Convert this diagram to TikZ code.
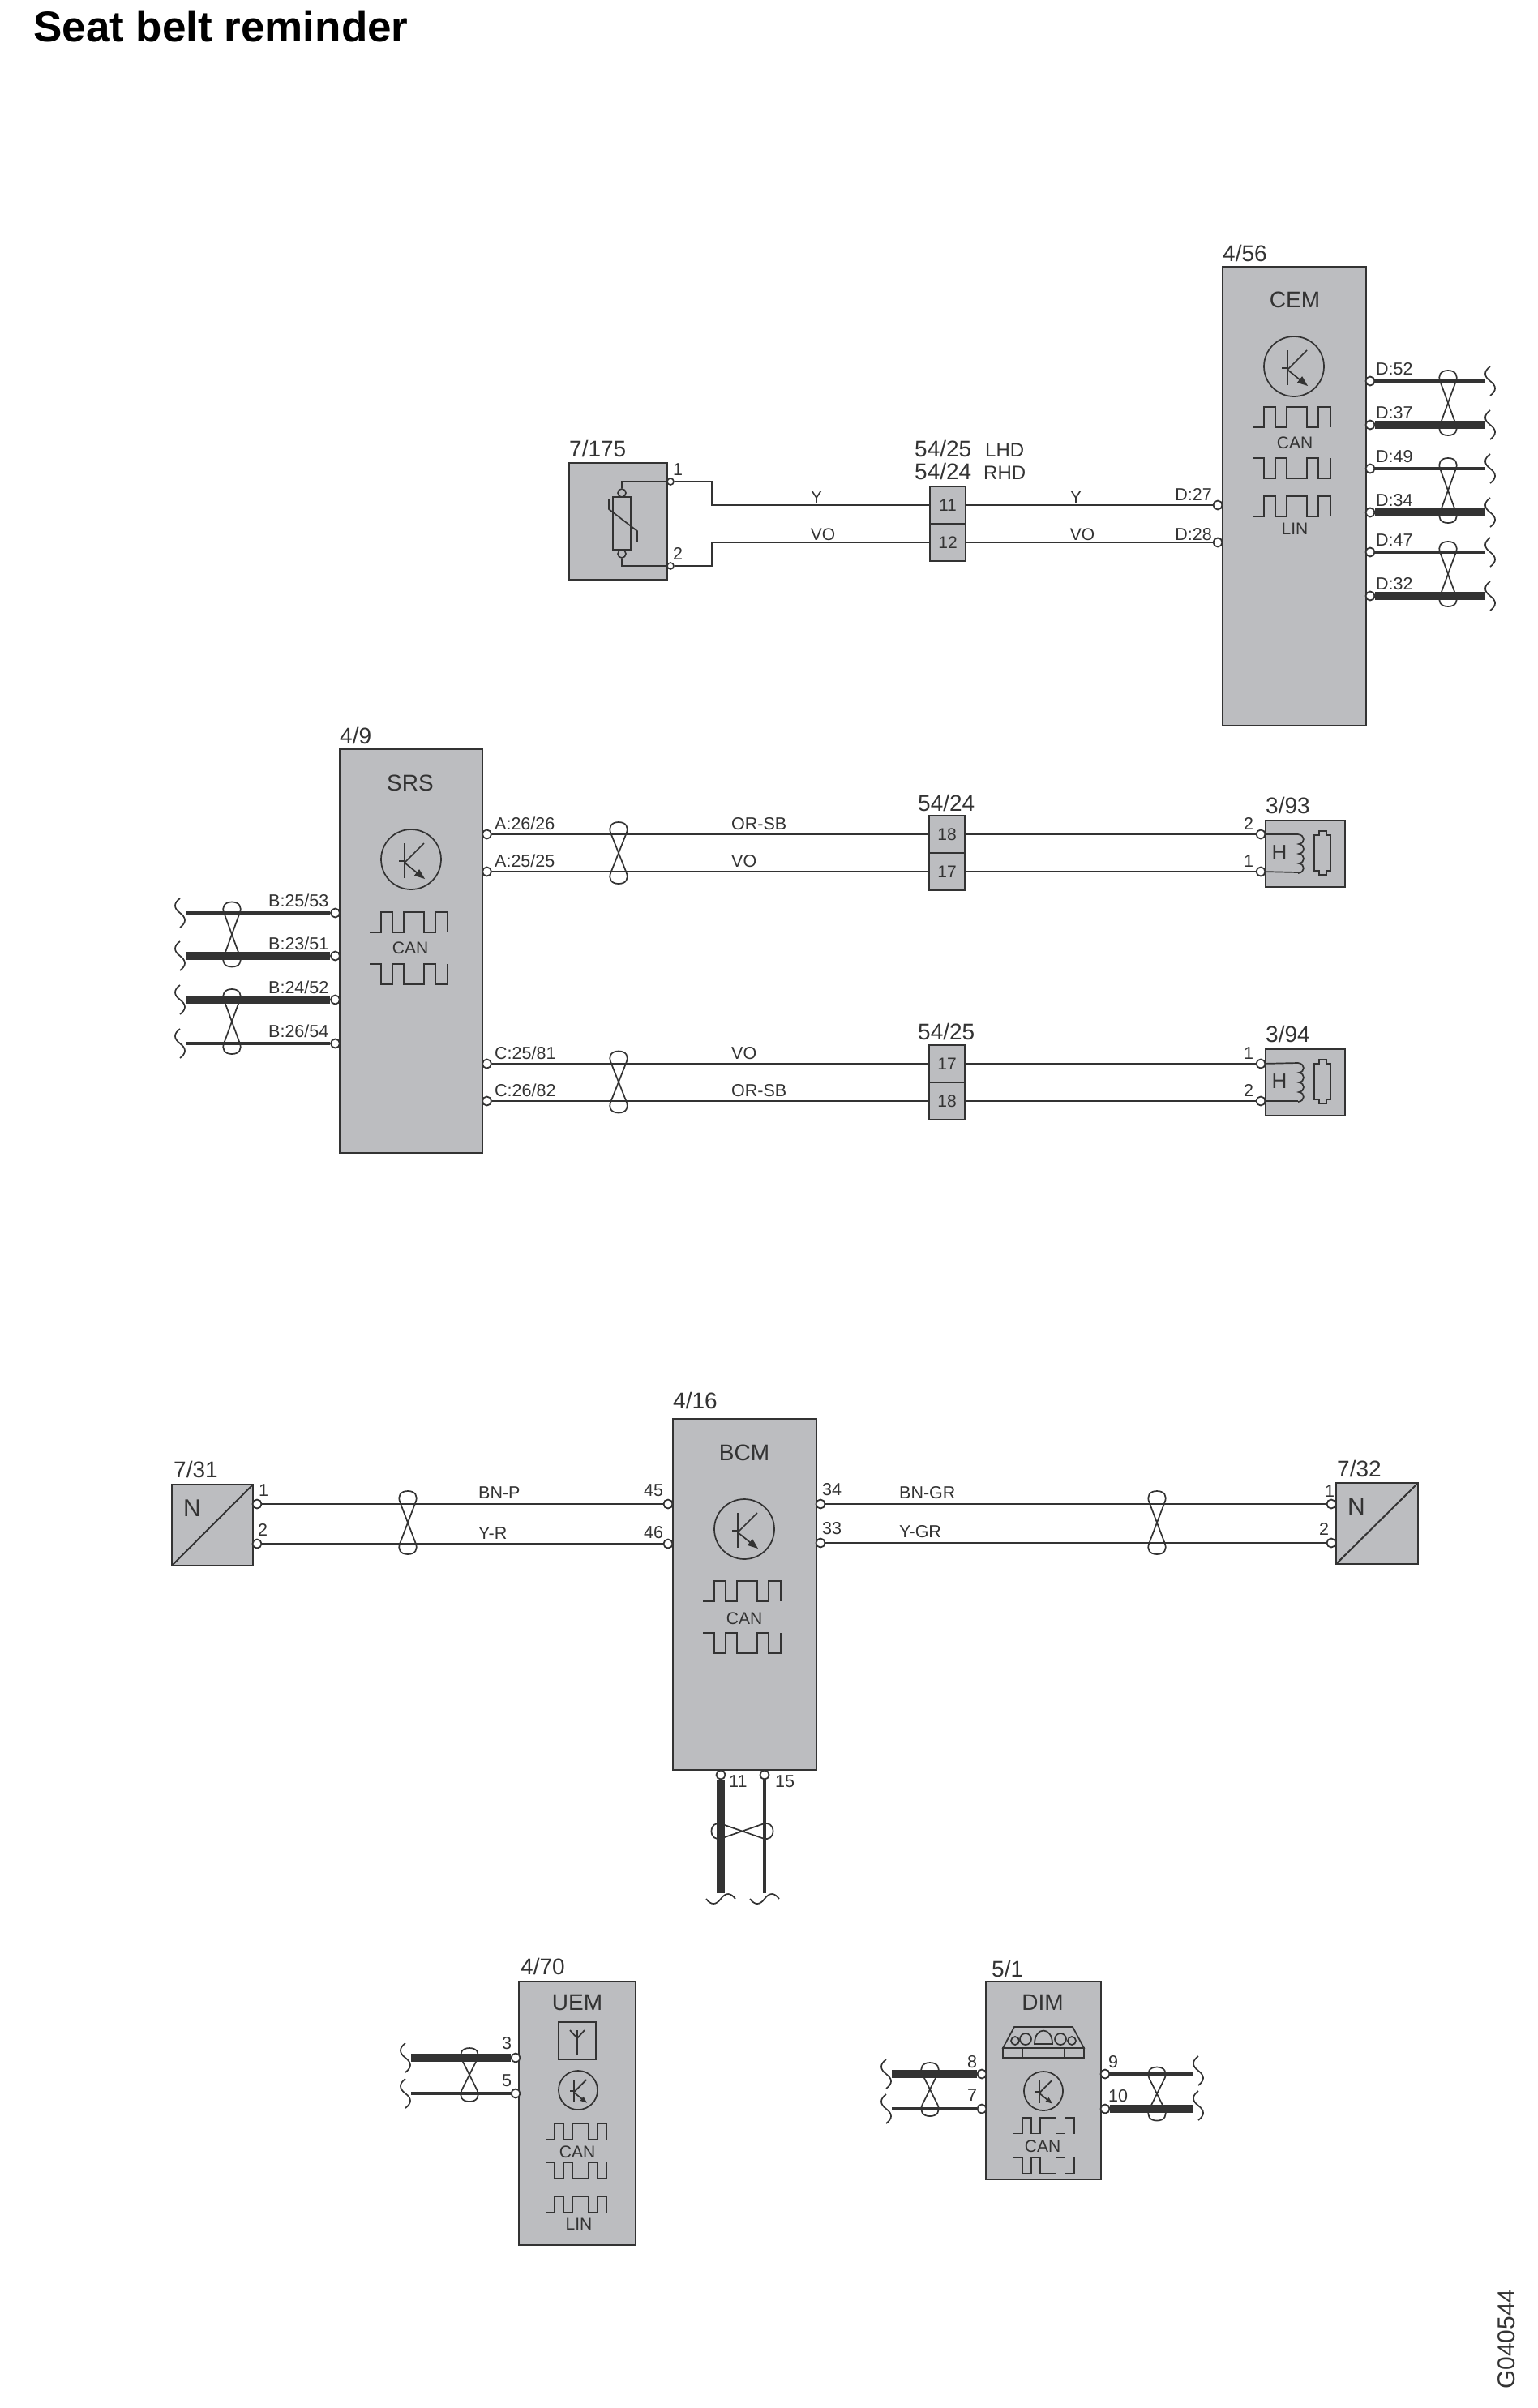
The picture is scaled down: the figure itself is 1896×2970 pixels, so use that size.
\documentclass[tikz,border=0pt]{standalone}
\usepackage{fontspec}
\setmainfont{Liberation Sans}
\usetikzlibrary{positioning}

\definecolor{ink}{HTML}{333333}
\definecolor{boxgray}{HTML}{BCBDC0}

\tikzset{
    refmark/.style={font=\fontsize{28}{28}\selectfont, text=ink, anchor=base west, inner sep=0pt},
    title/.style={font=\fontsize{28}{28}\selectfont, text=ink, inner sep=0pt},
    pinlabel/.style={font=\fontsize{21.5}{21.5}\selectfont, text=ink, anchor=base west, inner sep=0pt},
    midlabel/.style={font=\fontsize{21}{21}\selectfont, text=ink, inner sep=0pt},
    ecu/.style={draw=ink, fill=boxgray, line width=2pt, anchor=north west, inner sep=0pt, outer sep=0pt},
    cell/.style={draw=ink, fill=boxgray, line width=2pt, inner sep=0pt, minimum width=44pt, minimum height=46pt,
        font=\fontsize{21}{21}\selectfont, text=ink},
    pad/.style={circle, draw=ink, fill=white, line width=1.8pt, inner sep=0pt, minimum size=11pt},
    smallpad/.style={circle, draw=ink, fill=white, line width=1.6pt, inner sep=0pt, minimum size=8pt},
    wire/.style={draw=ink, line width=2pt},
    thinbus/.style={draw=ink, line width=4.6pt},
    thickbus/.style={draw=ink, line width=9.5pt},
    sym/.style={draw=ink, line width=1.7pt},
    pics/pulseup/.style={code={
        \draw[sym] (-51,25) -- (-37,25) -- (-37,0) -- (-23,0) -- (-23,25) -- (-9,25) -- (-9,0)
            -- (16,0) -- (16,25) -- (30,25) -- (30,0) -- (45,0) -- (45,25);
    }},
    pics/pulsedown/.style={code={
        \draw[sym] (-51,0) -- (-37,0) -- (-37,25) -- (-23,25) -- (-23,0) -- (-9,0) -- (-9,25)
            -- (16,25) -- (16,0) -- (30,0) -- (30,25) -- (45,25) -- (45,0);
    }},
    pics/transistor/.style={code={
        \draw[sym] (0,0) circle (37);
        \draw[sym] (-8,-20) -- (-8,23);
        \draw[sym] (-15,2) -- (-8,2);
        \draw[sym] (-8,4) -- (16,-20);
        \draw[sym] (-8,4) -- (8,17);
        \fill[ink] (17,24) -- (3.9,19.9) -- (10.1,12.1) -- cycle;
    }},
    pics/twisty/.style={code={
        \draw[sym] (0,-#1) .. controls (9,-#1) and (13,-#1+6) .. (9.5,-#1+14)
            -- (-9.5,#1-14) .. controls (-13,#1-6) and (-9,#1) .. (0,#1)
            .. controls (9,#1) and (13,#1-6) .. (9.5,#1-14)
            -- (-9.5,-#1+14) .. controls (-13,-#1+6) and (-9,-#1) .. (0,-#1);
    }},
    pics/twistx/.style={code={
        \draw[sym] (-#1,0) .. controls (-#1,-7) and (-#1+5,-11) .. (-#1+12,-9)
            -- (#1-12,9) .. controls (#1-5,11) and (#1,7) .. (#1,0)
            .. controls (#1,-7) and (#1-5,-11) .. (#1-12,-9)
            -- (-#1+12,9) .. controls (-#1+5,11) and (-#1,7) .. (-#1,0);
    }},
    pics/tail/.style={code={
        \draw[sym] (0,-18) .. controls (-8,-12) and (-8,-6) .. (0,0) .. controls (8,6) and (8,12) .. (0,18);
    }},
    pics/tailx/.style={code={
        \draw[sym] (-18,0) .. controls (-12,8) and (-6,8) .. (0,0) .. controls (6,-8) and (12,-8) .. (18,0);
    }},
    pics/coil/.style={code={
        \draw[sym] (0,0) .. controls (9,1) and (9,11) .. (1,12) .. controls (9,13) and (9,23) .. (1,24)
            .. controls (9,25) and (9,35) .. (1,36) .. controls (9,37) and (9,47) .. (0,48);
    }},
    pics/plugicon/.style={code={
        \draw[sym] (-10,5) -- (-4,5) -- (-4,0) -- (5,0) -- (5,5) -- (10,5) -- (10,49) -- (5,49) -- (5,54)
            -- (-4,54) -- (-4,49) -- (-10,49) -- cycle;
    }}
}

\begin{document}
\begin{tikzpicture}[x=1pt,y=-1pt]
    \useasboundingbox (0,0) rectangle (1896,2970);

    \node[font=\bfseries\fontsize{53}{53}\selectfont, text=black, anchor=base west, inner sep=0pt] (heading) at (41,52) {Seat belt reminder};
    \node[font=\fontsize{30}{30}\selectfont, text=ink, rotate=90, anchor=base west, inner sep=0pt] (drawingno) at (1868,2947) {G040544};

    % CEM
    \node[ecu, minimum width=177pt, minimum height=566pt] (cem) at (1508,329) {};
    \node[refmark] (cemref) at (1508,322) {4/56};
    \node[title] (cemname) at (1597,370) {CEM};
    \pic at (1596,452) {transistor};
    \pic at (1596,502) {pulseup};
    \node[midlabel] (cemcan) at (1597,546) {CAN};
    \pic at (1596,565) {pulsedown};
    \pic at (1596,612) {pulseup};
    \node[midlabel] (cemlin) at (1597,652) {LIN};

    \foreach \pin/\py/\bus in {52/470/thinbus, 37/524/thickbus, 49/578/thinbus, 34/632/thickbus, 47/681/thinbus, 32/735/thickbus} {
        \coordinate (dend\pin) at (1832,\py);
        \node[pad] (d\pin) at (1690,\py) {};
        \draw[\bus] (d\pin) -- (dend\pin);
        \node[pinlabel] (dl\pin) at (1697,\py-8) {D:\pin};
        \pic at (1838,\py) {tail};
    }
    \foreach \ty in {497,605,708} {
        \pic at (1786,\ty) {twisty=40};
    }

    % Sensor 7/175
    \node[ecu, minimum width=121pt, minimum height=144pt] (belt) at (702,571) {};
    \node[refmark] (beltref) at (702,563) {7/175};
    \node[smallpad] (beltone) at (827,594) {};
    \node[smallpad] (belttwo) at (827,698) {};
    \node[pinlabel, anchor=center] (beltonel) at (836,579) {1};
    \node[pinlabel, anchor=center] (belttwol) at (836,683) {2};
    \draw[sym, fill=none] (756,613) rectangle (778,678);
    \node[smallpad, minimum size=10pt, fill=boxgray] (restop) at (767,608) {};
    \node[smallpad, minimum size=10pt, fill=boxgray] (resbot) at (767,683) {};
    \draw[wire] (restop) |- (beltone);
    \draw[wire] (resbot) |- (belttwo);
    \draw[sym] (751,615) -- (751,628) -- (786,655) -- (786,668);

    % Connector 54/25 - 54/24
    \node[refmark] (lhdref) at (1128,563) {54/25};
    \node[refmark] (rhdref) at (1128,591) {54/24};
    \node[font=\fontsize{24}{24}\selectfont, text=ink, anchor=base west, inner sep=0pt] (lhd) at (1215,563) {LHD};
    \node[font=\fontsize{24}{24}\selectfont, text=ink, anchor=base west, inner sep=0pt] (rhd) at (1213,591) {RHD};
    \node[cell] (c11) at (1169,623) {11};
    \node[cell] (c12) at (1169,669) {12};
    \coordinate (bendone) at (878,594);
    \coordinate (bendtwo) at (878,698);
    \draw[wire] (beltone) -- (bendone) |- (c11);
    \draw[wire] (belttwo) -- (bendtwo) |- (c12);
    \node[midlabel] (ywa) at (1007,613) {Y};
    \node[midlabel] (vowa) at (1015,659) {VO};
    \node[pad] (d27) at (1502,623) {};
    \node[pad] (d28) at (1502,669) {};
    \draw[wire] (c11) -- (d27);
    \draw[wire] (c12) -- (d28);
    \node[midlabel] (ywb) at (1327,613) {Y};
    \node[midlabel] (vowb) at (1335,659) {VO};
    \node[pinlabel, anchor=base east] (dl27) at (1495,617) {D:27};
    \node[pinlabel, anchor=base east] (dl28) at (1495,666) {D:28};

    % SRS
    \node[ecu, minimum width=176pt, minimum height=498pt] (srs) at (419,924) {};
    \node[refmark] (srsref) at (419,917) {4/9};
    \node[title] (srsname) at (506,966) {SRS};
    \pic at (507,1060) {transistor};
    \pic at (507,1125) {pulseup};
    \node[midlabel] (srscan) at (506,1169) {CAN};
    \pic at (507,1189) {pulsedown};

    \foreach \pin/\pintxt/\py/\bus in {a/B:25\slash 53/1126/thinbus, b/B:23\slash 51/1179/thickbus, c/B:24\slash 52/1233/thickbus, d/B:26\slash 54/1287/thinbus} {
        \coordinate (bend\pin) at (229,\py);
        \node[pad] (b\pin) at (413.5,\py) {};
        \draw[\bus] (b\pin) -- (bend\pin);
        \node[pinlabel] (bl\pin) at (331,\py-8) {\pintxt};
        \pic at (222,\py) {tail};
    }
    \pic at (286,1152.5) {twisty=40};
    \pic at (286,1260) {twisty=40};

    % SRS to buckles
    \foreach \row/\pintxt/\wirey/\cellno/\celly/\wirecol/\pinno in {
        aa/A:26\slash 26/1029/18/1029/OR-SB/2, ab/A:25\slash 25/1075/17/1075/VO/1,
        ca/C:25\slash 81/1312/17/1312/VO/1, cb/C:26\slash 82/1358/18/1358/OR-SB/2} {
        \node[pad] (s\row) at (600.5,\wirey) {};
        \node[pad] (h\row) at (1555,\wirey) {};
        \node[cell] (k\row) at (1168,\celly) {\cellno};
        \draw[wire] (s\row) -- (k\row);
        \draw[wire] (k\row) -- (h\row);
        \node[pinlabel] (sl\row) at (610,\wirey-6) {\pintxt};
        \node[pinlabel] (wl\row) at (902,\wirey-6) {\wirecol};
        \node[pinlabel, anchor=center] (hl\row) at (1540,\wirey-13) {\pinno};
    }
    \pic at (763,1052) {twisty=38};
    \pic at (763,1334.5) {twisty=38};
    \node[refmark] (k24ref) at (1132,1000) {54/24};
    \node[refmark] (k25ref) at (1132,1282) {54/25};

    % Buckle switches
    \foreach \sw/\swref/\sy/\wa/\wb in {u/3\slash 93/1012/haa/hab, v/3\slash 94/1294/hca/hcb} {
        \node[ecu, minimum width=98pt, minimum height=82pt] (sw\sw) at (1561,\sy) {};
        \node[refmark] (swref\sw) at (1561,\sy-9) {\swref};
        \node[font=\fontsize{26}{26}\selectfont, text=ink, inner sep=0pt] (swh\sw) at (1578,\sy+40) {H};
        \pic at (1631,\sy+13) {plugicon};
        \pic at (1601,\sy+17) {coil};
        \draw[sym] (\wa) -- (1601,\sy+17);
        \draw[sym] (\wb) -- (1601,\sy+64);
    }

    % BCM
    \node[ecu, minimum width=177pt, minimum height=433pt] (bcm) at (830,1750) {};
    \node[refmark] (bcmref) at (830,1737) {4/16};
    \node[title] (bcmname) at (918,1792) {BCM};
    \pic at (918,1886) {transistor};
    \pic at (918,1950) {pulseup};
    \node[midlabel] (bcmcan) at (918,1996) {CAN};
    \pic at (918,2014) {pulsedown};

    \node[pad] (p45) at (824,1855) {};
    \node[pad] (p46) at (824,1904) {};
    \node[pad] (p34) at (1012,1855) {};
    \node[pad] (p33) at (1012,1903) {};
    \node[pinlabel] (l45) at (794,1845) {45};
    \node[pinlabel] (l46) at (794,1897) {46};
    \node[pinlabel] (l34) at (1014,1844) {34};
    \node[pinlabel] (l33) at (1014,1892) {33};

    % Sensors 7/31 and 7/32
    \node[ecu, minimum width=100pt, minimum height=100pt] (nl) at (212,1831) {};
    \node[refmark] (nlref) at (214,1822) {7/31};
    \node[font=\fontsize{30}{30}\selectfont, text=ink, inner sep=0pt] (nlname) at (237,1860) {N};
    \draw[wire] (nl.north east) -- (nl.south west);
    \node[pad] (nlone) at (317,1855) {};
    \node[pad] (nltwo) at (317,1904) {};
    \node[pinlabel, anchor=center] (nlonel) at (325,1838) {1};
    \node[pinlabel, anchor=center] (nltwol) at (324,1887) {2};
    \draw[wire] (nlone) -- (p45);
    \draw[wire] (nltwo) -- (p46);
    \pic at (503,1878) {twisty=39};
    \node[pinlabel] (bnp) at (590,1848) {BN-P};
    \node[pinlabel] (yr) at (590,1898) {Y-R};

    \node[ecu, minimum width=101pt, minimum height=100pt] (nr) at (1648,1829) {};
    \node[refmark] (nrref) at (1649,1821) {7/32};
    \node[font=\fontsize{30}{30}\selectfont, text=ink, inner sep=0pt] (nrname) at (1673,1858) {N};
    \draw[wire] (nr.north east) -- (nr.south west);
    \node[pad] (nrone) at (1642,1855) {};
    \node[pad] (nrtwo) at (1642,1903) {};
    \node[pinlabel, anchor=center] (nronel) at (1640,1839) {1};
    \node[pinlabel, anchor=center] (nrtwol) at (1633,1886) {2};
    \draw[wire] (p34) -- (nrone);
    \draw[wire] (p33) -- (nrtwo);
    \pic at (1427,1878) {twisty=39};
    \node[pinlabel] (bngr) at (1109,1848) {BN-GR};
    \node[pinlabel] (ygr) at (1109,1896) {Y-GR};

    % BCM bottom pins
    \node[pad] (p11) at (889,2189) {};
    \node[pad] (p15) at (943,2189) {};
    \coordinate (endeleven) at (889,2335);
    \coordinate (endfifteen) at (943,2335);
    \draw[thickbus] (p11) -- (endeleven);
    \draw[thinbus] (p15) -- (endfifteen);
    \node[pinlabel] (l11) at (899,2204) {11};
    \node[pinlabel] (l15) at (956,2204) {15};
    \pic at (915.5,2258.5) {twistx=38};
    \pic at (889,2342) {tailx};
    \pic at (943,2342) {tailx};

    % UEM
    \node[ecu, minimum width=144pt, minimum height=325pt] (uem) at (640,2444) {};
    \node[refmark] (uemref) at (642,2435) {4/70};
    \node[title] (uemname) at (712,2470) {UEM};
    \node[draw=ink, line width=1.8pt, inner sep=0pt, minimum size=46pt] (aerial) at (712,2517) {};
    \draw[sym] (712,2535) -- (712,2504);
    \draw[sym] (703,2504) -- (712,2514) -- (721,2504);
    \pic[scale=0.65] at (713,2578) {transistor};
    \pic[scale=0.78] at (713,2619) {pulseup};
    \node[midlabel] (uemcan) at (712,2654) {CAN};
    \pic[scale=0.78] at (713,2667) {pulsedown};
    \pic[scale=0.78] at (713,2709) {pulseup};
    \node[midlabel] (uemlin) at (714,2743) {LIN};

    \node[pad] (u3) at (636,2538) {};
    \node[pad] (u5) at (636,2582) {};
    \coordinate (uend3) at (507,2538);
    \coordinate (uend5) at (507,2582);
    \draw[thickbus] (u3) -- (uend3);
    \draw[thinbus] (u5) -- (uend5);
    \node[pinlabel, anchor=center] (ul3) at (625,2520) {3};
    \node[pinlabel, anchor=center] (ul5) at (625,2566) {5};
    \pic at (579,2559) {twisty=33};
    \pic at (500,2538) {tail};
    \pic at (500,2582) {tail};

    % DIM
    \node[ecu, minimum width=142pt, minimum height=244pt] (dim) at (1216,2444) {};
    \node[refmark] (dimref) at (1223,2438) {5/1};
    \node[title] (dimname) at (1286,2470) {DIM};
    \draw[sym] (1237,2526) -- (1251,2500) -- (1323,2500) -- (1337,2526) -- cycle;
    \draw[sym] (1237,2526) rectangle (1337,2538);
    \draw[sym] (1261,2526) -- (1261,2538);
    \draw[sym] (1313,2526) -- (1313,2538);
    \draw[sym] (1252,2517) circle (5);
    \draw[sym] (1265,2515) circle (7);
    \draw[sym] (1308,2515) circle (7);
    \draw[sym] (1322,2517) circle (5);
    \draw[sym] (1276,2521) .. controls (1276,2499) and (1298,2499) .. (1298,2521) -- cycle;
    \pic[scale=0.65] at (1287,2579) {transistor};
    \pic[scale=0.78] at (1290,2612) {pulseup};
    \node[midlabel] (dimcan) at (1286,2647) {CAN};
    \pic[scale=0.78] at (1290,2661) {pulsedown};

    \node[pad] (m8) at (1211,2558) {};
    \node[pad] (m7) at (1211,2601) {};
    \node[pad] (m9) at (1363,2558) {};
    \node[pad] (m10) at (1363,2601) {};
    \coordinate (mend8) at (1100,2558);
    \coordinate (mend7) at (1100,2601);
    \coordinate (mend9) at (1472,2558);
    \coordinate (mend10) at (1472,2601);
    \draw[thickbus] (m8) -- (mend8);
    \draw[thinbus] (m7) -- (mend7);
    \draw[thinbus] (m9) -- (mend9);
    \draw[thickbus] (m10) -- (mend10);
    \node[pinlabel, anchor=center] (ml8) at (1199,2543) {8};
    \node[pinlabel, anchor=center] (ml7) at (1199,2584) {7};
    \node[pinlabel, anchor=center] (ml9) at (1373,2543) {9};
    \node[pinlabel, anchor=center] (ml10) at (1379,2585) {10};
    \pic at (1147,2577) {twisty=33};
    \pic at (1427,2582.5) {twisty=33};
    \pic at (1093,2558) {tail};
    \pic at (1093,2601) {tail};
    \pic at (1478,2554) {tail};
    \pic at (1478,2597) {tail};
\end{tikzpicture}
\end{document}
